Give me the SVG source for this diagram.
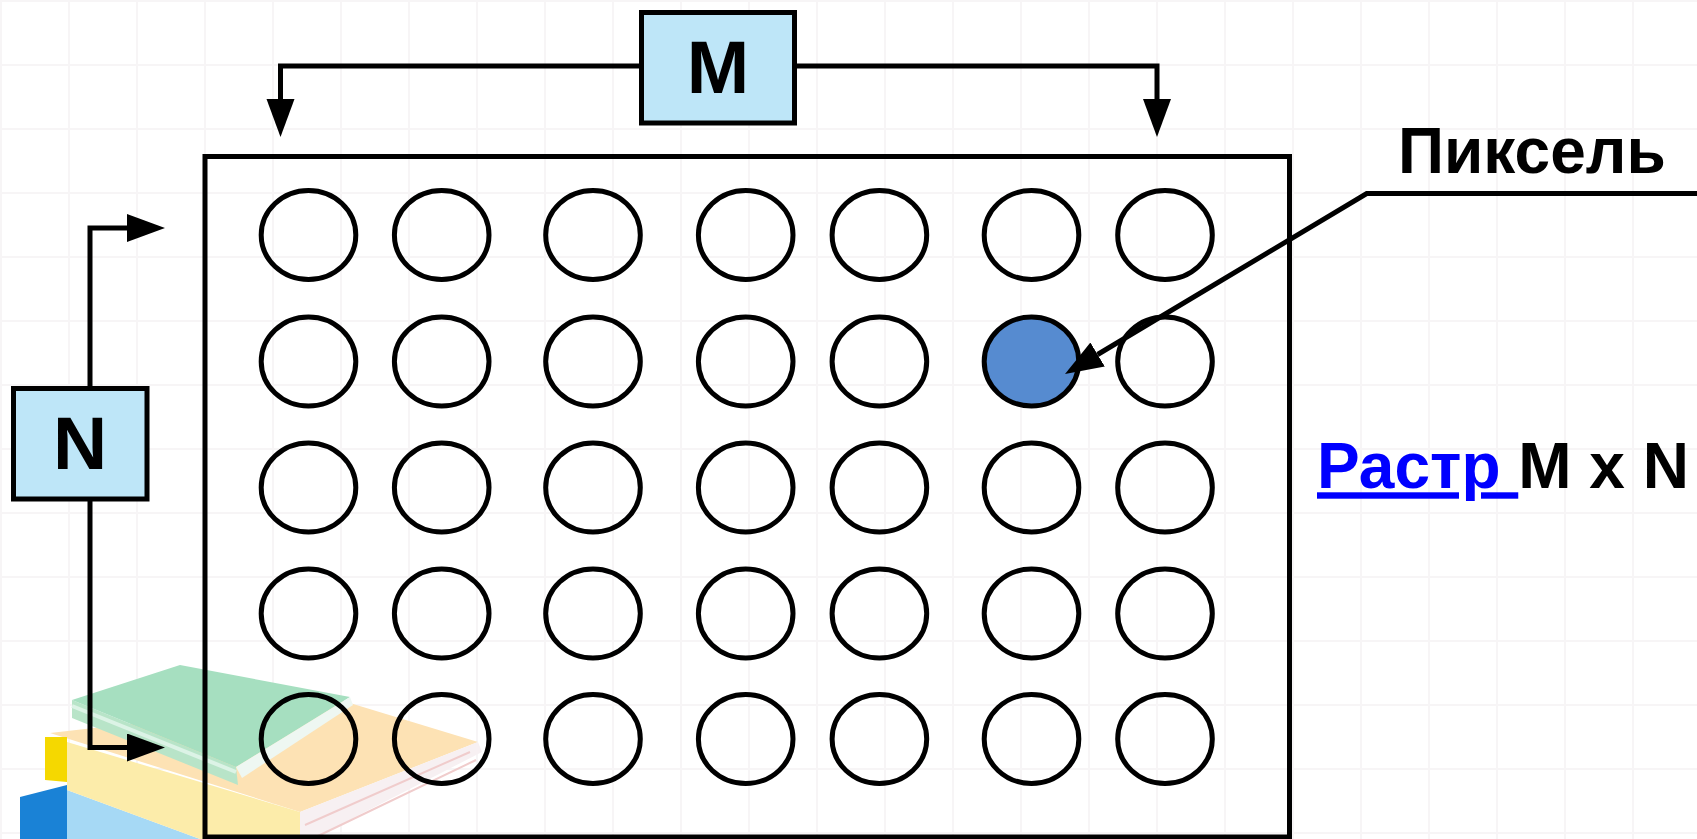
<svg xmlns="http://www.w3.org/2000/svg" width="1697" height="839" viewBox="0 0 1697 839">
  <defs>
    <style>
      .ring { fill: none; stroke: #000; stroke-width: 5; }
      .ring.lit { fill: #568bd0; }
      .box { fill: #bee6f8; stroke: #000; stroke-width: 5; }
      .wire { fill: none; stroke: #000; stroke-width: 5; }
      .lbl { font-family: "Liberation Sans", Arial, sans-serif; font-weight: bold; }
    </style>
    <marker id="arrow" markerUnits="userSpaceOnUse" viewBox="0 0 40 30" markerWidth="40" markerHeight="30" refX="0" refY="14" orient="auto-start-reverse">
      <path d="M0,0 L38,14 L0,28 z" fill="#000"/>
    </marker>
    <pattern id="grid" width="68" height="64" patternUnits="userSpaceOnUse">
      <path d="M0,1 H68 M1,0 V64" stroke="#efebed" stroke-width="2" fill="none"/>
    </pattern>
  </defs>

  <!-- paper background -->
  <rect width="1697" height="839" fill="#fff"/>
  <rect width="1697" height="839" fill="url(#grid)" opacity="0.5"/>

  <!-- decorative stack of books, bottom left -->
  <g id="books">
    <polygon points="20,797 67,785 67,839 20,839" fill="#1a82d6"/>
    <polygon points="67,790 200,839 67,839" fill="#a6d9f5"/>
    <polygon points="50,733 340,700 478,742 300,812" fill="#fde2b4"/>
    <polygon points="67,742 300,812 300,839 200,839 67,790" fill="#fcecaa"/>
    <polygon points="45,737 67,737 67,782 45,780" fill="#f5d800"/>
    <polygon points="478,742 482,752 312,839 300,839 300,812" fill="#f7f0f2"/>
    <path d="M470,752 L305,825 M476,760 L318,836" stroke="#f0cccc" stroke-width="2" fill="none"/>
    <polygon points="72,700 236,767 238,785 72,718" fill="#b8e4c8"/>
    <polygon points="72,700 180,665 350,697 236,767" fill="#a6dfc0"/>
    <path d="M72,706 L236,772" stroke="#dcf3e6" stroke-width="4" fill="none"/>
    <polygon points="350,697 353,705 242,778 236,767" fill="#eef7f2"/>
  </g>

  <!-- raster frame -->
  <g id="raster">
    <rect x="205" y="156.5" width="1084.5" height="680.5" fill="none" stroke="#000" stroke-width="5"/>
  </g>

  <!-- pixel grid: 7 columns x 5 rows -->
  <g id="pixels">
    <ellipse class="ring" cx="308.5" cy="235" rx="47.3" ry="44.5"/>
    <ellipse class="ring" cx="441.7" cy="235" rx="47.3" ry="44.5"/>
    <ellipse class="ring" cx="593" cy="235" rx="47.3" ry="44.5"/>
    <ellipse class="ring" cx="745.7" cy="235" rx="47.3" ry="44.5"/>
    <ellipse class="ring" cx="879.4" cy="235" rx="47.3" ry="44.5"/>
    <ellipse class="ring" cx="1031.5" cy="235" rx="47.3" ry="44.5"/>
    <ellipse class="ring" cx="1165" cy="235" rx="47.3" ry="44.5"/>

    <ellipse class="ring" cx="308.5" cy="361.5" rx="47.3" ry="44.5"/>
    <ellipse class="ring" cx="441.7" cy="361.5" rx="47.3" ry="44.5"/>
    <ellipse class="ring" cx="593" cy="361.5" rx="47.3" ry="44.5"/>
    <ellipse class="ring" cx="745.7" cy="361.5" rx="47.3" ry="44.5"/>
    <ellipse class="ring" cx="879.4" cy="361.5" rx="47.3" ry="44.5"/>
    <ellipse class="ring" cx="1165" cy="361.5" rx="47.3" ry="44.5"/>

    <ellipse class="ring" cx="308.5" cy="487.5" rx="47.3" ry="44.5"/>
    <ellipse class="ring" cx="441.7" cy="487.5" rx="47.3" ry="44.5"/>
    <ellipse class="ring" cx="593" cy="487.5" rx="47.3" ry="44.5"/>
    <ellipse class="ring" cx="745.7" cy="487.5" rx="47.3" ry="44.5"/>
    <ellipse class="ring" cx="879.4" cy="487.5" rx="47.3" ry="44.5"/>
    <ellipse class="ring" cx="1031.5" cy="487.5" rx="47.3" ry="44.5"/>
    <ellipse class="ring" cx="1165" cy="487.5" rx="47.3" ry="44.5"/>

    <ellipse class="ring" cx="308.5" cy="613.5" rx="47.3" ry="44.5"/>
    <ellipse class="ring" cx="441.7" cy="613.5" rx="47.3" ry="44.5"/>
    <ellipse class="ring" cx="593" cy="613.5" rx="47.3" ry="44.5"/>
    <ellipse class="ring" cx="745.7" cy="613.5" rx="47.3" ry="44.5"/>
    <ellipse class="ring" cx="879.4" cy="613.5" rx="47.3" ry="44.5"/>
    <ellipse class="ring" cx="1031.5" cy="613.5" rx="47.3" ry="44.5"/>
    <ellipse class="ring" cx="1165" cy="613.5" rx="47.3" ry="44.5"/>

    <ellipse class="ring" cx="308.5" cy="739" rx="47.3" ry="44.5"/>
    <ellipse class="ring" cx="441.7" cy="739" rx="47.3" ry="44.5"/>
    <ellipse class="ring" cx="593" cy="739" rx="47.3" ry="44.5"/>
    <ellipse class="ring" cx="745.7" cy="739" rx="47.3" ry="44.5"/>
    <ellipse class="ring" cx="879.4" cy="739" rx="47.3" ry="44.5"/>
    <ellipse class="ring" cx="1031.5" cy="739" rx="47.3" ry="44.5"/>
    <ellipse class="ring" cx="1165" cy="739" rx="47.3" ry="44.5"/>
  </g>

  <!-- highlighted pixel -->
  <g id="pixel-selected">
    <ellipse class="ring lit" cx="1031.5" cy="361.5" rx="47.3" ry="44.5"/>
  </g>

  <!-- connectors -->
  <g id="connectors">
    <path class="wire" d="M280.5,99 V66 H1157 V99" marker-start="url(#arrow)" marker-end="url(#arrow)"/>
    <path class="wire" d="M127,228 H90 V747.5 H127" marker-start="url(#arrow)" marker-end="url(#arrow)"/>
    <path class="wire" d="M1697,193.5 H1366.7 L1097.6,354.5" marker-end="url(#arrow)"/>
  </g>

  <!-- width label -->
  <g id="label-M">
    <rect class="box" x="641.5" y="12.5" width="153" height="110.5"/>
    <text class="lbl" x="718" y="92.5" font-size="75" text-anchor="middle" fill="#000">M</text>
  </g>

  <!-- height label -->
  <g id="label-N">
    <rect class="box" x="13.5" y="388.5" width="133.5" height="110.5"/>
    <text class="lbl" x="80" y="469.3" font-size="75" text-anchor="middle" fill="#000">N</text>
  </g>

  <!-- pixel caption -->
  <g id="label-pixel">
    <text class="lbl" x="1398" y="173" font-size="64" fill="#000">Пиксель</text>
  </g>

  <!-- raster size caption -->
  <g id="label-raster">
    <text class="lbl" x="1317" y="488.3" font-size="64" fill="#000" xml:space="preserve"><tspan fill="#0000ff" text-decoration="underline">Растр </tspan>M x N</text>
  </g>
</svg>
